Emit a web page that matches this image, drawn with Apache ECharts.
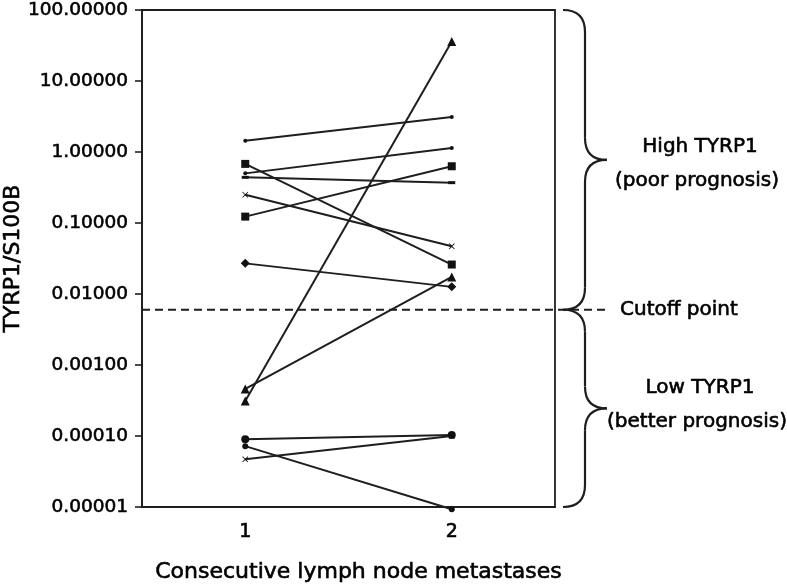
<!DOCTYPE html>
<html>
<head>
<meta charset="utf-8">
<script src="https://cdn.jsdelivr.net/npm/echarts@6/dist/echarts.min.js"></script>
<style>html,body{margin:0;padding:0;background:#fff}#c{width:787px;height:585px}</style>
</head>
<body>
<div id="c"></div>
<script>
// Categories (consecutive lymph node metastases)
const categories = ['1', '2'];
// Y-axis tick values (log scale)
const yTicks = [0.00001, 0.0001, 0.001, 0.01, 0.1, 1, 10, 100];
const cutoff = 0.006;

// Patient series: [metastasis 1, metastasis 2]
const pDot1 = [1.44, 3.1];
const pSquare1 = [0.68, 0.026];
const pSquare2 = [0.123, 0.63];
const pDot2 = [0.5, 1.14];
const pDash1 = [0.44, 0.37];
const pCross1 = [0.25, 0.047];
const pDiamond1 = [0.027, 0.0126];
const pTriangle1 = [0.00046, 0.0174];
const pTriangle2 = [0.00031, 36];
const pCircle1 = [0.00009, 0.000103];
const pCircle2 = [0.000072, 0.0000093];
const pCross2 = [0.000047, 0.0001];

const crossPath = 'path://M0,1L1,0L5,4L9,0L10,1L6,5L10,9L9,10L5,6L1,10L0,9L4,5Z';
const seriesDefs = [
  [pDot1, 'circle', 4],
  [pSquare1, 'rect', 8],
  [pSquare2, 'rect', 8],
  [pDot2, 'circle', 4],
  [pDash1, 'rect', [7, 3]],
  [pCross1, crossPath, 6],
  [pDiamond1, 'diamond', 9],
  [pTriangle1, 'triangle', 9],
  [pTriangle2, 'triangle', 9],
  [pCircle1, 'circle', 8],
  [pCircle2, 'circle', 6],
  [pCross2, crossPath, 6]
];

const FONT = 'DejaVu Sans';
const TXT = '#000';
const LN = '#1e1e1e';
const bold = {textBorderColor: '#000', textBorderWidth: 0.6};

const chart = echarts.init(document.getElementById('c'), null, {renderer: 'canvas'});
const option = {
  animation: false,
  backgroundColor: '#fff',
  textStyle: {fontFamily: FONT},
  grid: {left: 142, right: 232, top: 10, bottom: 78, show: true, borderColor: LN, borderWidth: 1.8,
         containLabel: false, outerBoundsMode: 'none'},
  xAxis: {
    type: 'category', data: categories,
    axisLine: {lineStyle: {color: LN, width: 1.8}},
    axisTick: {show: false},
    axisLabel: Object.assign({color: TXT, fontSize: 19, margin: 16, fontFamily: FONT}, bold),
    name: 'Consecutive lymph node metastases', nameLocation: 'middle', nameGap: 54,
    nameMoveOverlap: false,
    nameTextStyle: Object.assign({color: TXT, fontSize: 22, fontFamily: FONT, padding: [0, 0, 0, 20]}, bold)
  },
  yAxis: {
    type: 'log', logBase: 10, min: yTicks[0], max: yTicks[yTicks.length - 1], splitNumber: 7,
    axisLine: {show: true, lineStyle: {color: LN, width: 1.8}},
    axisTick: {show: true, inside: false, length: 7, lineStyle: {color: LN, width: 1.6}},
    splitLine: {show: false},
    axisLabel: Object.assign({color: TXT, fontSize: 18.5, margin: 14, fontFamily: FONT,
      formatter: v => Number(v).toFixed(5)}, bold),
    name: 'TYRP1/S100B', nameLocation: 'middle', nameGap: 118,
    nameMoveOverlap: false,
    nameTextStyle: Object.assign({color: TXT, fontSize: 22, fontFamily: FONT}, bold)
  },
  series: seriesDefs.map(([d, sym, sz]) => ({
    type: 'line', data: d, symbol: sym, symbolSize: sz, showAllSymbol: true, clip: false,
    lineStyle: {color: LN, width: 2}, itemStyle: {color: '#111', borderWidth: 0}
  }))
};
chart.setOption(option);

function py(v) { return chart.convertToPixel({yAxisIndex: 0}, v); }
const yTop = py(yTicks[yTicks.length - 1]);
const yBot = py(yTicks[0]);
const yCut = py(cutoff);
const xR = 787 - 232;
const bStyle = {stroke: LN, lineWidth: 2.2, fill: null};
function brace(ya, yb) {
  const x0 = xR + 8, x1 = xR + 30, x2 = xR + 52, r = 22, ym = (ya + yb) / 2;
  return [
    {type: 'bezierCurve', shape: {x1: x0, y1: ya, cpx1: x1, cpy1: ya, x2: x1, y2: ya + r}, style: bStyle},
    {type: 'line', shape: {x1: x1, y1: ya + r, x2: x1, y2: ym - r}, style: bStyle},
    {type: 'bezierCurve', shape: {x1: x1, y1: ym - r, cpx1: x1, cpy1: ym, x2: x2, y2: ym}, style: bStyle},
    {type: 'bezierCurve', shape: {x1: x2, y1: ym, cpx1: x1, cpy1: ym, x2: x1, y2: ym + r}, style: bStyle},
    {type: 'line', shape: {x1: x1, y1: ym + r, x2: x1, y2: yb - r}, style: bStyle},
    {type: 'bezierCurve', shape: {x1: x1, y1: yb - r, cpx1: x1, cpy1: yb, x2: x0, y2: yb}, style: bStyle}
  ];
}
const tStyle = (t, x, y, align) => ({type: 'text', x, y, style: Object.assign({text: t, fill: TXT, font: `20px "${FONT}"`, align: align || 'center', verticalAlign: 'middle', stroke: '#000', lineWidth: 0.6})});
chart.setOption({
  graphic: [
    {type: 'line', shape: {x1: 142, y1: yCut, x2: xR + 53, y2: yCut}, style: {stroke: LN, lineWidth: 2.2, lineDash: [8, 5]}},
    ...brace(yTop, yCut),
    ...brace(yCut, yBot),
    tStyle('High TYRP1', 700, 147),
    tStyle('(poor prognosis)', 697, 181),
    tStyle('Cutoff point', 620, yCut, 'left'),
    tStyle('Low TYRP1', 700, 388),
    tStyle('(better prognosis)', 697, 422)
  ]
});
</script>
</body>
</html>
